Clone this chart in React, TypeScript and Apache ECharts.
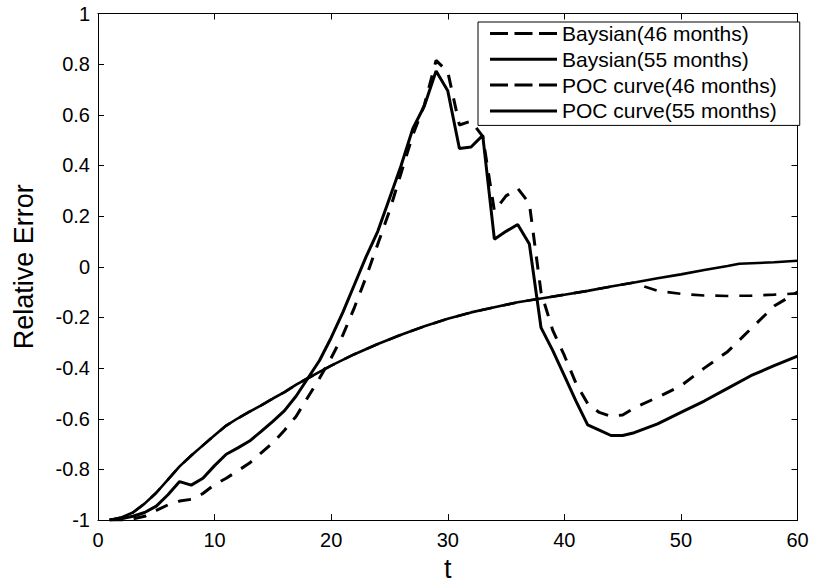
import { useEffect, useRef } from 'react';
import * as echarts from 'echarts';

// ---------- data ----------
const seriesNames = [
  'Baysian(46 months)',
  'Baysian(55 months)',
  'POC curve(46 months)',
  'POC curve(55 months)',
];

const xTickValues = [0, 10, 20, 30, 40, 50, 60];
const yTickValues = [-1, -0.8, -0.6, -0.4, -0.2, 0, 0.2, 0.4, 0.6, 0.8, 1];

const baysianT = [
  1, 2, 3, 4, 5, 6, 7, 8, 9, 10, 11, 12, 13, 14, 15, 16, 17, 18, 19, 20, 21, 22, 23, 24, 25, 26, 27, 28, 29, 30,
  31, 32, 33, 34, 35, 36, 37, 38, 39, 40, 41, 42, 43, 44, 45, 46, 48, 50, 52, 54, 56, 58, 60,
];
const baysian46 = [
  -1, -1, -0.995, -0.985, -0.962, -0.94, -0.925, -0.918, -0.895, -0.86, -0.835, -0.805, -0.775, -0.735, -0.695,
  -0.645, -0.59, -0.515, -0.44, -0.36, -0.27, -0.16, -0.04, 0.09, 0.22, 0.37, 0.52, 0.64, 0.815, 0.77, 0.56, 0.575,
  0.515, 0.22, 0.28, 0.31, 0.25, -0.1, -0.25, -0.35, -0.46, -0.54, -0.575, -0.59, -0.585, -0.557, -0.515, -0.47,
  -0.4, -0.335, -0.245, -0.155, -0.1,
];
const baysian55 = [
  -1, -0.995, -0.985, -0.97, -0.945, -0.9, -0.848, -0.862, -0.835, -0.785, -0.74, -0.715, -0.688, -0.65, -0.61,
  -0.568, -0.51, -0.44, -0.37, -0.28, -0.18, -0.07, 0.04, 0.14, 0.27, 0.4, 0.545, 0.636, 0.773, 0.695, 0.467, 0.473,
  0.519, 0.109, 0.14, 0.167, 0.09, -0.24, -0.33, -0.43, -0.53, -0.624, -0.645, -0.666, -0.666, -0.655, -0.62, -0.575,
  -0.53, -0.48, -0.43, -0.39, -0.353,
];

const poc55T = [
  1, 2, 3, 4, 5, 6, 7, 8, 9, 10, 11, 12, 13, 14, 15, 16, 17, 18, 19, 20, 22, 24, 26, 28, 30, 32, 34, 36, 38, 40, 42,
  44, 46, 48, 50, 52, 54, 55, 58, 60,
];
const poc55 = [
  -1, -0.99, -0.97, -0.935, -0.892, -0.84, -0.788, -0.745, -0.705, -0.665, -0.627, -0.598, -0.572, -0.547, -0.52,
  -0.495, -0.465, -0.44, -0.415, -0.39, -0.345, -0.305, -0.268, -0.235, -0.205, -0.18, -0.16, -0.14, -0.125, -0.11,
  -0.095, -0.078, -0.062, -0.045, -0.03, -0.013, 0.003, 0.012, 0.018, 0.024,
];

const poc46T = [
  1, 2, 3, 4, 5, 6, 7, 8, 9, 10, 11, 12, 13, 14, 15, 16, 17, 18, 19, 20, 22, 24, 26, 28, 30, 32, 34, 36, 38, 40, 42,
  44, 46, 47, 48, 50, 52, 54, 56, 58, 60,
];
const poc46 = [
  -1, -0.99, -0.97, -0.935, -0.892, -0.84, -0.788, -0.745, -0.705, -0.665, -0.627, -0.598, -0.572, -0.547, -0.52,
  -0.495, -0.465, -0.44, -0.415, -0.39, -0.345, -0.305, -0.268, -0.235, -0.205, -0.18, -0.16, -0.14, -0.125, -0.11,
  -0.095, -0.078, -0.062, -0.08, -0.095, -0.107, -0.113, -0.115, -0.114, -0.11, -0.105,
];

// ---------- chart ----------
const FONT = "'Liberation Sans', Arial, Helvetica, sans-serif";
const DASH = [13, 11];
const dashedIcon = 'path://M0,0h18v3h-18z M24.5,0h18v3h-18z M49,0h18v3h-18z';
const solidIcon = 'path://M0,0h67v3h-67z';

const pairs = (t: number[], v: number[]) => t.map((x, i) => [x, v[i]]);

function buildOption(): echarts.EChartsCoreOption {
  const axisLine = { show: true, onZero: false, lineStyle: { color: '#000', width: 1 } };
  const tick = { show: true, inside: true, length: 6, lineStyle: { color: '#000', width: 1 } };
  const labelStyle = { color: '#000', fontSize: 20, fontFamily: FONT };
  const fmt = (v: number) => String(+v.toFixed(1));

  return {
    animation: false,
    backgroundColor: '#fff',
    color: ['#000'],
    textStyle: { fontFamily: FONT },
    grid: { left: 98, right: 15.5, top: 13.5, bottom: 62.5, containLabel: false },
    xAxis: [
      {
        type: 'value',
        min: xTickValues[0],
        max: xTickValues[xTickValues.length - 1],
        interval: xTickValues[1] - xTickValues[0],
        position: 'bottom',
        axisLine,
        axisTick: tick,
        axisLabel: { ...labelStyle, margin: 10, formatter: fmt },
        splitLine: { show: false },
        name: 't',
        nameLocation: 'middle',
        nameGap: 32,
        nameTextStyle: { color: '#000', fontSize: 27, fontFamily: FONT },
      },
      {
        type: 'value',
        min: xTickValues[0],
        max: xTickValues[xTickValues.length - 1],
        interval: xTickValues[1] - xTickValues[0],
        position: 'top',
        axisLine,
        axisTick: tick,
        axisLabel: { show: false },
        splitLine: { show: false },
      },
    ],
    yAxis: [
      {
        type: 'value',
        min: yTickValues[0],
        max: yTickValues[yTickValues.length - 1],
        interval: 0.2,
        position: 'left',
        axisLine,
        axisTick: tick,
        axisLabel: { ...labelStyle, margin: 8, formatter: fmt },
        splitLine: { show: false },
        name: 'Relative Error',
        nameLocation: 'middle',
        nameGap: 61,
        nameTextStyle: { color: '#000', fontSize: 27, fontFamily: FONT },
      },
      {
        type: 'value',
        min: yTickValues[0],
        max: yTickValues[yTickValues.length - 1],
        interval: 0.2,
        position: 'right',
        axisLine,
        axisTick: tick,
        axisLabel: { show: false },
        splitLine: { show: false },
      },
    ],
    legend: {
      orient: 'vertical',
      left: 478,
      top: 22,
      itemWidth: 67,
      itemHeight: 3,
      itemGap: 4.8,
      padding: [1, 23, 4, 12],
      borderColor: '#000',
      borderWidth: 1,
      backgroundColor: '#fff',
      selectedMode: false,
      textStyle: { color: '#000', fontSize: 21, fontFamily: FONT, lineHeight: 20 },
      data: [
        { name: seriesNames[0], icon: dashedIcon },
        { name: seriesNames[1], icon: solidIcon },
        { name: seriesNames[2], icon: dashedIcon },
        { name: seriesNames[3], icon: solidIcon },
      ],
    },
    series: [
      {
        name: seriesNames[3],
        type: 'line',
        data: pairs(poc55T, poc55),
        symbol: 'none',
        showSymbol: false,
        itemStyle: { color: '#000' },
        lineStyle: { color: '#000', width: 2.6 },
        z: 2,
      },
      {
        name: seriesNames[2],
        type: 'line',
        data: pairs(poc46T, poc46),
        symbol: 'none',
        showSymbol: false,
        itemStyle: { color: '#000' },
        lineStyle: { color: '#000', width: 2.6, type: DASH },
        z: 3,
      },
      {
        name: seriesNames[1],
        type: 'line',
        data: pairs(baysianT, baysian55),
        symbol: 'none',
        showSymbol: false,
        itemStyle: { color: '#000' },
        lineStyle: { color: '#000', width: 3 },
        z: 4,
      },
      {
        name: seriesNames[0],
        type: 'line',
        data: pairs(baysianT, baysian46),
        symbol: 'none',
        showSymbol: false,
        itemStyle: { color: '#000' },
        lineStyle: { color: '#000', width: 3, type: DASH },
        z: 5,
      },
    ],
  };
}

export default function App() {
  const ref = useRef<HTMLDivElement>(null);
  useEffect(() => {
    if (!ref.current) return;
    const chart = echarts.init(ref.current, null, { renderer: 'svg' });
    chart.setOption(buildOption());
    return () => chart.dispose();
  }, []);
  return (
    <div
      ref={ref}
      style={{ position: 'absolute', left: 0, top: 0, width: 813, height: 587, background: '#fff' }}
    />
  );
}
